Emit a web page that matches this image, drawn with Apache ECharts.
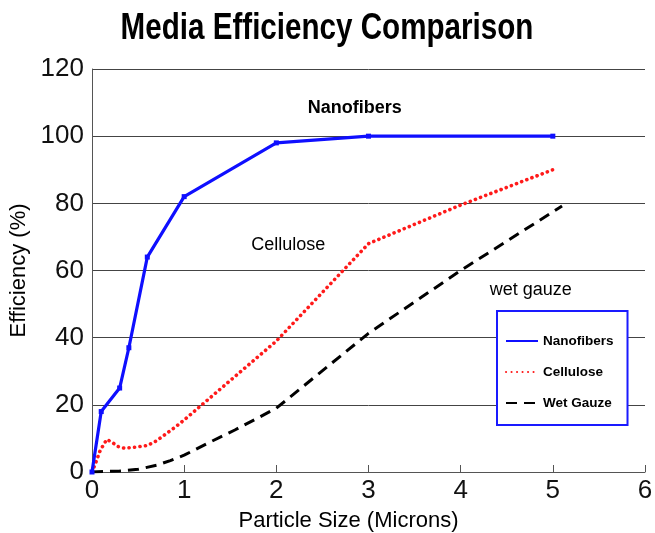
<!DOCTYPE html>
<html>
<head>
<meta charset="utf-8">
<script src="https://cdn.jsdelivr.net/npm/echarts@6/dist/echarts.min.js"></script>
<style>
html,body{margin:0;padding:0;background:#fff;}
#chart{width:655px;height:533px;}
</style>
</head>
<body>
<div id="chart"></div>
<script>
// ---- data ----
const titleText = 'Media Efficiency Comparison';
const xAxisName = 'Particle Size (Microns)';
const yAxisName = 'Efficiency (%)';
const seriesNames = ['Nanofibers', 'Cellulose', 'Wet Gauze'];

const nanoX = [0, 0.1, 0.3, 0.4, 0.6, 1, 2, 3, 5];
const nanoY = [0, 18, 25, 37, 64, 82, 98, 100, 100];

const celX = [0, 0.03, 0.09, 0.16, 0.22, 0.28, 0.35, 0.47, 0.6, 0.7, 0.8, 0.9, 1, 2, 3, 4, 5];
const celY = [0, 2, 6.5, 9.7, 8.8, 7.6, 7.1, 7.4, 7.9, 9.3, 11.3, 13.3, 15.5, 39, 68, 79.5, 90];

const gzX = [0, 0.3, 0.5, 0.7, 0.85, 1, 1.25, 1.55, 2, 3, 4, 5.1];
const gzY = [0, 0.3, 0.8, 2, 3.4, 5, 8.5, 12.5, 19, 41.3, 60, 79.2];

const annotText = ['Nanofibers', 'Cellulose', 'wet gauze'];
const annotX = [2.85, 2.13, 4.76];
const annotY = [108.4, 67.6, 54.2];

const xTicks = [0, 1, 2, 3, 4, 5, 6];
const yTicks = [0, 20, 40, 60, 80, 100, 120];

// ---- chart ----
const zip = (xs, ys) => xs.map((x, i) => [x, ys[i]]);
const sans = "'Liberation Sans', Arial, sans-serif";

const chart = echarts.init(document.getElementById('chart'), null, {renderer: 'canvas'});

const annotStyles = [
  {fontWeight: 'bold', fontSize: 18},
  {fontWeight: 'normal', fontSize: 18},
  {fontWeight: 'normal', fontSize: 18}
];

chart.setOption({
  backgroundColor: '#fff',
  animation: false,
  graphic: [{
    type: 'text',
    x: 327,
    y: 29,
    scaleX: 0.8,
    silent: true,
    style: {
      text: titleText,
      x: 0, y: 0,
      align: 'center',
      verticalAlign: 'middle',
      font: "bold 37px 'Liberation Sans', Arial, sans-serif",
      fill: '#000'
    }
  }],
  grid: {left: 92, right: 10, top: 69, bottom: 61, containLabel: false, outerBoundsMode: 'none'},
  legend: {
    orient: 'vertical',
    left: 497,
    top: 311,
    padding: [23, 14, 15, 8],
    itemGap: 17,
    itemWidth: 32,
    itemHeight: 10,
    borderColor: '#1a1aff',
    borderWidth: 2,
    backgroundColor: '#fff',
    data: seriesNames,
    itemStyle: {opacity: 0},
    textStyle: {fontFamily: sans, fontWeight: 'bold', fontSize: 13.5, color: '#000'}
  },
  xAxis: {
    type: 'value',
    min: 0, max: 6, interval: 1,
    name: xAxisName,
    nameLocation: 'middle',
    nameGap: 38,
    nameTextStyle: {fontFamily: sans, fontSize: 22, color: '#000', padding: [0, 40, 0, 0]},
    axisLine: {show: true, lineStyle: {color: '#555', width: 1}},
    axisTick: {show: true, inside: true, length: 7, lineStyle: {color: '#555'}},
    axisLabel: {fontFamily: sans, fontSize: 26, color: '#111', margin: 6,
      formatter: v => xTicks.includes(v) ? String(v) : ''},
    splitLine: {show: false}
  },
  yAxis: {
    type: 'value',
    min: 0, max: 120, interval: 20,
    name: yAxisName,
    nameLocation: 'middle',
    nameGap: 59,
    nameRotate: 90,
    nameTextStyle: {fontFamily: sans, fontSize: 22, color: '#000'},
    axisLine: {show: true, lineStyle: {color: '#555', width: 1}},
    axisTick: {show: false},
    axisLabel: {fontFamily: sans, fontSize: 26, color: '#111', margin: 8,
      formatter: v => yTicks.includes(v) ? String(v) : ''},
    splitLine: {show: true, lineStyle: {color: '#444', width: 1}}
  },
  series: [
    {
      name: seriesNames[0],
      type: 'line',
      data: zip(nanoX, nanoY),
      symbol: 'rect',
      symbolSize: 5,
      showSymbol: true,
      itemStyle: {color: '#0f0fff'},
      lineStyle: {color: '#0f0fff', width: 3.2},
      z: 5,
      markPoint: {
        symbol: 'circle',
        symbolSize: 0,
        silent: true,
        data: annotText.map((t, i) => ({
          coord: [annotX[i], annotY[i]],
          label: Object.assign({show: true, position: 'inside', formatter: t,
            fontFamily: sans, color: '#000'}, annotStyles[i])
        }))
      }
    },
    {
      name: seriesNames[1],
      type: 'line',
      data: zip(celX, celY),
      symbol: 'none',
      smooth: false,
      itemStyle: {color: '#ff1a1a'},
      lineStyle: {color: '#ff1a1a', width: 3.6, type: [0.1, 5.4], cap: 'round', join: 'round'},
      z: 4
    },
    {
      name: seriesNames[2],
      type: 'line',
      data: zip(gzX, gzY),
      symbol: 'none',
      smooth: false,
      itemStyle: {color: '#000'},
      lineStyle: {color: '#000', width: 3, type: [11, 7], join: 'round'},
      z: 3
    }
  ]
});
</script>
</body>
</html>
